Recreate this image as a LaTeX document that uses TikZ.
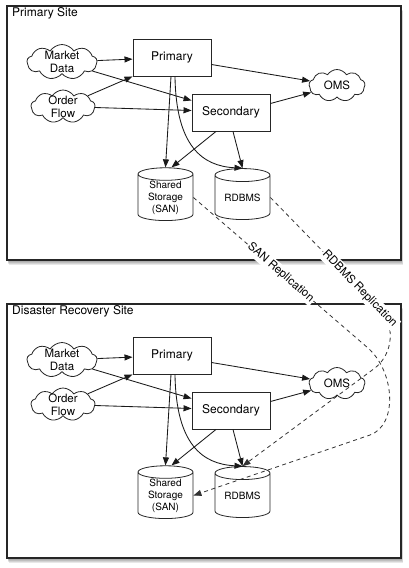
\documentclass[tikz,border=0pt]{standalone}
\usepackage{fontspec}
\setmainfont{TeX Gyre Heros}
\usetikzlibrary{shapes.symbols,shapes.geometric,arrows.meta}

\tikzset{
  box/.style={draw=black!85, line width=0.9pt, fill=white, minimum width=78pt, minimum height=37pt, inner sep=0pt, font=\fontsize{12}{14}\selectfont},
  cloudnode/.style={cloud, draw=black!85, line width=0.8pt, fill=white, cloud puffs=9, cloud puff arc=115, cloud ignores aspect, inner sep=0pt},
  cloudtext/.style={align=center, font=\fontsize{11.5}{13}\selectfont, inner sep=0pt, text=black},
  db/.style={cylinder, shape border rotate=90, draw=black!85, line width=0.8pt, fill=white, aspect=0.36, minimum width=55pt, minimum height=51pt, inner sep=0pt, font=\fontsize{10}{12}\selectfont, align=center},
  arr/.style={draw=black!90, line width=0.85pt, -{Triangle[length=8pt,width=6pt]}},
  repl/.style={draw=black!80, line width=0.8pt, dash pattern=on 4pt off 3.5pt, -{Triangle[length=8pt,width=6pt]}},
  repllabel/.style={fill=white, inner sep=1.5pt, font=\fontsize{11.5}{13}\selectfont, sloped, text=black},
  frame/.style={draw=black!85, line width=1.2pt, fill=white},
  sitelabel/.style={anchor=base west, font=\fontsize{12}{14}\selectfont, inner sep=0pt},
}

\newcommand\sitebody[1]{%
  \node[cloudnode, minimum width=70pt, minimum height=35pt, label={[cloudtext]center:Market\\Data}] (#1md) at (62,62) {};
  \node[cloudnode, minimum width=64pt, minimum height=33pt, label={[cloudtext]center:Order\\Flow}] (#1of) at (63,106.5) {};
  \node[cloudnode, minimum width=56pt, minimum height=32pt, label={[cloudtext]center:OMS}] (#1oms) at (337,85.5) {};
  \node[box] (#1pri) at (172,57.5) {Primary};
  \node[box] (#1sec) at (231,112.5) {Secondary};
  \node[db] (#1san) at (165.5,197.5) {Shared\\Storage\\(SAN)};
  \node[db] (#1rdb) at (242.5,197.5) {RDBMS};
  \draw[arr] (#1md) -- (#1pri);
  \draw[arr] (#1of) -- (#1pri.south west);
  \draw[arr] (#1md) -- ([yshift=12pt]#1sec.west);
  \draw[arr] (#1of) -- ([yshift=2pt]#1sec.west);
  \draw[arr] ([yshift=-7pt]#1pri.east) -- (#1oms);
  \draw[arr] ([yshift=9pt]#1sec.east) -- (#1oms);
  \draw[arr] ([xshift=-1pt]#1pri.south) -- (#1san.north);
  \draw[arr] ([xshift=3pt]#1pri.south) .. controls ([xshift=4pt,yshift=-70pt]#1pri.south) and ([xshift=-40pt,yshift=2pt]#1rdb.north) .. (#1rdb.north);
  \draw[arr] ([xshift=-15pt]#1sec.south) -- ([xshift=6pt]#1san.north);
  \draw[arr] ([xshift=2pt]#1sec.south) -- (#1rdb.north);
}

\begin{document}
\begin{tikzpicture}[x=1pt,y=-1pt]
  \useasboundingbox (0,0) rectangle (409,568);
  \fill[white] (0,0) rectangle (409,568);
  \foreach \o in {0,298}{
    \foreach \i in {1,...,5}{
      \fill[black,opacity=0.09] (7+0.3*\i, 6+\o+\i) rectangle (401+0.4*\i, 260+\o+\i);
    }
  }
  \draw[frame] (7,6) rectangle (401,260);
  \draw[frame] (7,304) rectangle (401,558);
  \node[sitelabel] (ptitle) at (12,16.5) {Primary Site};
  \node[sitelabel] (dtitle) at (12,314.5) {Disaster Recovery Site};
  \sitebody{p}
  \begin{scope}[yshift=-298pt]
    \sitebody{d}
  \end{scope}
  \draw[repl] (psan.east) -- node[repllabel, midway]{SAN Replication} (368,348)
     .. controls (395,372) and (398,425) .. (370,435) -- (dsan.east);
  \draw[repl] (prdb.east) -- node[repllabel, pos=0.8]{RDBMS Replication} (382,312)
     .. controls (394,325) and (394,353) .. (375,368) -- (drdb.north);
\end{tikzpicture}
\end{document}
